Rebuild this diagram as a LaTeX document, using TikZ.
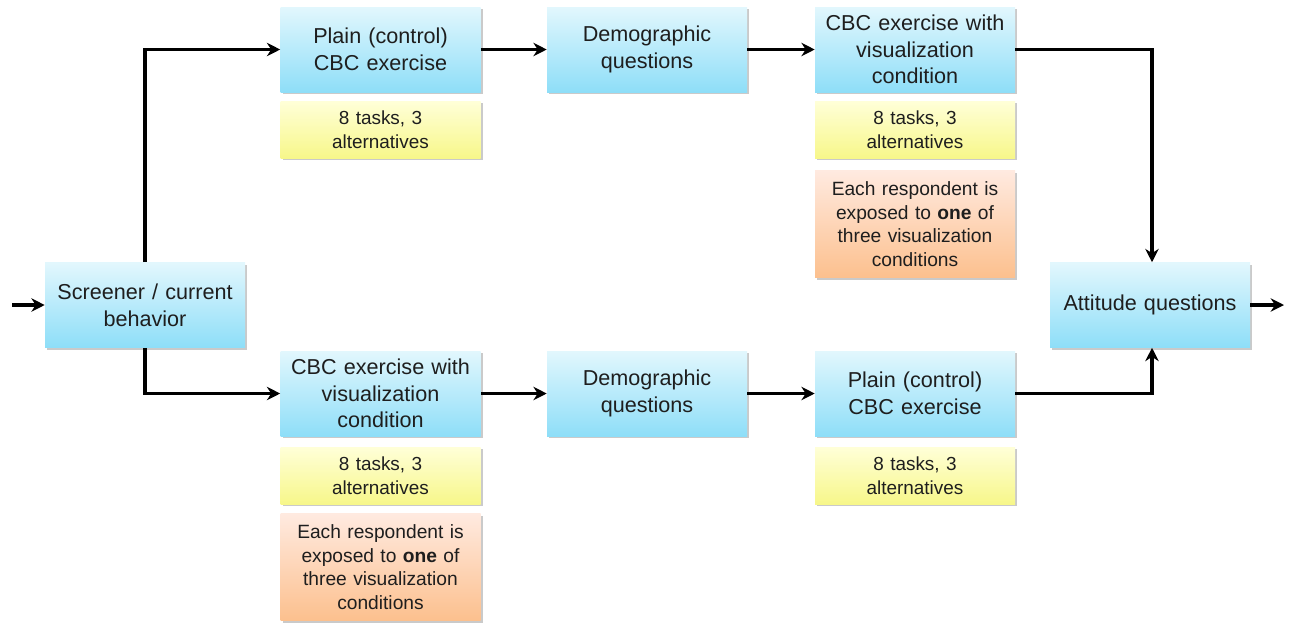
\documentclass[tikz,border=0pt]{standalone}
\usepackage{fontspec}
\setmainfont{Liberation Sans}
\usetikzlibrary{arrows.meta,shadows}
\definecolor{bluetop}{HTML}{E2F7FD}
\definecolor{bluebot}{HTML}{8EDEF8}
\definecolor{yeltop}{HTML}{FFFFD8}
\definecolor{yelbot}{HTML}{F7F78A}
\definecolor{orgtop}{HTML}{FFEAE0}
\definecolor{orgbot}{HTML}{FCC08E}
\definecolor{txt}{HTML}{1E1E1E}
\tikzset{
  box/.style={rectangle, minimum width=200*0.75pt, text width=196*0.75pt, align=center, inner sep=0pt,
    text=txt, drop shadow={shadow xshift=1.5pt, shadow yshift=-1.5pt, opacity=0.35, fill=black!60}},
  bluebox/.style={box, minimum height=85*0.75pt, top color=bluetop, bottom color=bluebot, font=\fontsize{16.2}{20}\selectfont},
  yelbox/.style={box, minimum height=57*0.75pt, top color=yeltop, bottom color=yelbot, font=\fontsize{14.2}{18}\selectfont},
  orgbox/.style={box, minimum height=107*0.75pt, top color=orgtop, bottom color=orgbot, font=\fontsize{14.4}{17.8}\selectfont},
  conn/.style={line width=2.9pt, -{Stealth[length=10pt,width=10pt]}},
}
\begin{document}
\begin{tikzpicture}[x=0.75pt,y=-0.75pt]
\useasboundingbox (0,0) rectangle (1290,622);
% blue boxes
\node[bluebox] (scr) at (145,305) {Screener / current\\behavior};
\node[bluebox] (p1) at (380.5,49.5) {Plain (control)\\CBC exercise};
\node[bluebox] (d1) at (647,49.5) {Demographic\\questions};
\node[bluebox] (v1) at (915,49.5) {CBC exercise with\\visualization\\condition};
\node[bluebox] (v2) at (380.5,393.5) {CBC exercise with\\visualization\\condition};
\node[bluebox] (d2) at (647,393.5) {Demographic\\questions};
\node[bluebox] (p2) at (915,393.5) {Plain (control)\\CBC exercise};
\node[bluebox] (att) at (1150,305) {Attitude questions};
% yellow boxes
\node[yelbox] (y1) at (380.5,129.5) {8 tasks, 3\\alternatives};
\node[yelbox] (y3) at (915,129.5) {8 tasks, 3\\alternatives};
\node[yelbox] (y2) at (380.5,475.5) {8 tasks, 3\\alternatives};
\node[yelbox] (y4) at (915,475.5) {8 tasks, 3\\alternatives};
% orange boxes
\node[orgbox] (o3) at (915,224) {Each respondent is\\exposed to \textbf{one} of\\three visualization\\conditions};
\node[orgbox] (o2) at (380.5,567) {Each respondent is\\exposed to \textbf{one} of\\three visualization\\conditions};
% connectors
\coordinate (in) at (12,305);
\coordinate (out) at (1284,305);
\draw[conn] (in) -- (scr.west);
\draw[conn] (att.east) -- (out);
\draw[conn] (scr.north) |- (p1.west);
\draw[conn] (scr.south) |- (v2.west);
\draw[conn] (p1.east) -- (d1.west);
\draw[conn] (d1.east) -- (v1.west);
\draw[conn] (v2.east) -- (d2.west);
\draw[conn] (d2.east) -- (p2.west);
\draw[conn] (v1.east) -| ([xshift=2*0.75pt]att.north);
\draw[conn] (p2.east) -| ([xshift=2*0.75pt]att.south);
\end{tikzpicture}
\end{document}
